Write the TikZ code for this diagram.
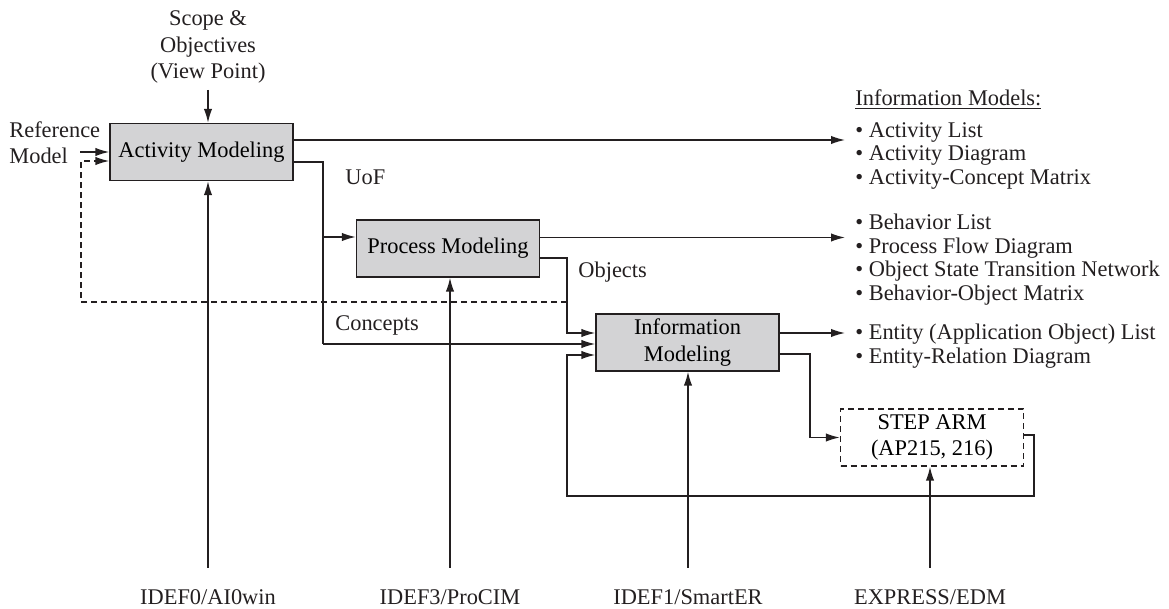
\documentclass[tikz,border=0pt]{standalone}
\usepackage{fontspec}
\setmainfont{Liberation Serif}
\usetikzlibrary{arrows.meta}
\definecolor{ink}{HTML}{231F20}
\definecolor{boxfill}{HTML}{D3D3D5}
\tikzset{
  conn/.style={draw=ink, line width=0.7pt},
  arr/.style={conn, -{Latex[length=7pt,width=4.2pt]}},
  dconn/.style={conn, dashed, dash pattern=on 3pt off 2pt},
  darr/.style={dconn, -{Latex[length=7pt,width=4.2pt]}},
  modbox/.style={draw=ink, line width=0.7pt, fill=boxfill, minimum width=91.5pt,
    minimum height=28.5pt, inner sep=0pt, align=center,
    font=\fontsize{11.2}{13.2}\selectfont},
  stepbox/.style={modbox, fill=none, dashed, dash pattern=on 3pt off 2pt},
  lbl/.style={inner sep=0pt, text=ink, font=\fontsize{11.2}{13.2}\selectfont},
  listtxt/.style={inner sep=0pt, anchor=north west, align=left, text=ink,
    font=\fontsize{11.2}{11.7}\selectfont},
}
\begin{document}
\begin{tikzpicture}[x=0.5pt, y=-0.5pt]
\useasboundingbox (0,0) rectangle (1169,609);

% modelling stages
\node[modbox] (act)  at (201.5,152)  {Activity Modeling};
\node[modbox] (proc) at (448,248.5)  {Process Modeling};
\node[modbox] (info) at (687.5,342.5) {Information\\Modeling};
\node[stepbox] (step) at (932,437.5) {STEP ARM\\(AP215, 216)};

% controls and inputs
\node[lbl, align=center] (scope) at (208,47) {Scope \&\\Objectives\\(View Point)};
\node[lbl, align=left, anchor=north west] (ref) at (9,121) {Reference\\Model};

% tools
\node[lbl] (t0) at (208,597) {IDEF0/AI0win};
\node[lbl] (t3) at (450,597) {IDEF3/ProCIM};
\node[lbl] (t1) at (688,597) {IDEF1/SmartER};
\node[lbl] (t2) at (930,597) {EXPRESS/EDM};

% resulting information models
\node[listtxt] (hdr) at (855,89) {\underline{Information Models:}};
\node[listtxt] (la) at (855,122) {\textbullet\ Activity List\\\textbullet\ Activity Diagram\\\textbullet\ Activity-Concept Matrix};
\node[listtxt] (lp) at (855,214) {\textbullet\ Behavior List\\\textbullet\ Process Flow Diagram\\\textbullet\ Object State Transition Network\\\textbullet\ Behavior-Object Matrix};
\node[listtxt] (li) at (855,324) {\textbullet\ Entity (Application Object) List\\\textbullet\ Entity-Relation Diagram};

% connector labels
\node[lbl, anchor=west] (uof) at (345,177) {UoF};
\node[lbl, anchor=west] (obj) at (578,272) {Objects};
\node[lbl, anchor=west] (con) at (335,325) {Concepts};

% junction points
\coordinate (uofx) at (323,0);
\coordinate (objx) at (567,0);
\coordinate (fbx)  at (81,0);
\coordinate (armx) at (810,0);
\coordinate (loopr) at (1034,0);
\coordinate (loopb) at (0,496);
\coordinate (outx) at (845,0);
\coordinate (refs) at (80,152);

% scope arrow
\draw[arr] (208,90) -- (act.north -| 208,0);

% reference model
\draw[arr] (refs) -- (refs -| act.west);

% outputs to the information models
\draw[arr] (act.east |- 0,140) -- (outx |- 0,140);
\draw[arr] (proc.east |- 0,237.5) -- (outx |- 0,237.5);
\draw[arr] (info.east |- 0,333) -- (outx |- 0,333);

% units of function and concepts
\draw[conn] (act.east |- 0,162) -- (uofx |- 0,162) -- (uofx |- 0,344);
\draw[arr] (uofx |- 0,237) -- (proc.west |- 0,237);
\draw[arr] (uofx |- 0,344) -- (info.west |- 0,344);

% objects
\draw[arr] (proc.east |- 0,258) -- (objx |- 0,258) -- (objx |- 0,333) -- (info.west |- 0,333);

% feedback to activity modeling
\draw[darr] (objx |- 0,302) -- (fbx |- 0,302) -- (fbx |- 0,161) -- (act.west |- 0,161);

% information model to STEP ARM
\draw[arr] (info.east |- 0,354) -- (armx |- 0,354) -- (armx |- step.west) -- (step.west);

% STEP ARM back to information modeling
\draw[arr] (step.east |- 0,435) -- (loopr |- 0,435) -- (loopr |- loopb) -- (objx |- loopb) -- (objx |- 0,355) -- (info.west |- 0,355);

% tool arrows
\draw[arr] (208,568) -- (act.south -| 208,0);
\draw[arr] (450,568) -- (proc.south -| 450,0);
\draw[arr] (688,568) -- (info.south -| 688,0);
\draw[arr] (930,568) -- (step.south -| 930,0);
\end{tikzpicture}
\end{document}
